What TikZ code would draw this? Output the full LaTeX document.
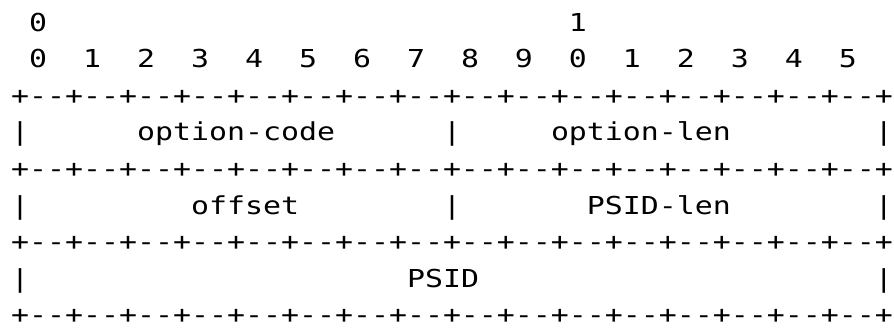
\documentclass[tikz,border=0pt]{standalone}
\usepackage{fontspec}
\setmonofont{DejaVu Sans Mono}
\usepackage{graphicx}

% n blank character cells of the mono font
\newcommand{\gap}[1]{\hspace*{#1\fontcharwd\font`\0}}
% widen a row to the cell width of the picture
\newcommand{\wide}[1]{\scalebox{1.21}[1]{#1}}
\tikzset{
  asciirow/.style={anchor=base west, inner sep=0pt, font=\ttfamily\fontsize{24.7}{30}\selectfont},
}

\begin{document}
\begin{tikzpicture}[x=1pt,y=1pt]
\useasboundingbox (0,0) rectangle (894,-330);
\node[asciirow] (tens)  at (11,-31)    {\wide{\gap{1}0\gap{29}1}};
\node[asciirow] (units) at (11,-67.6)  {\wide{~0~~1~~2~~3~~4~~5~~6~~7~~8~~9~~0~~1~~2~~3~~4~~5}};
\node[asciirow] (sepa)  at (11,-104.2) {\wide{+--+--+--+--+--+--+--+--+--+--+--+--+--+--+--+--+}};
\node[asciirow] (codes) at (11,-140.8) {\wide{|\gap{6}option-code\gap{6}|\gap{5}option-len\gap{8}|}};
\node[asciirow] (sepb)  at (11,-177.4) {\wide{+--+--+--+--+--+--+--+--+--+--+--+--+--+--+--+--+}};
\node[asciirow] (lens)  at (11,-214)   {\wide{|\gap{9}offset\gap{8}|\gap{7}PSID-len\gap{8}|}};
\node[asciirow] (sepc)  at (11,-250.6) {\wide{+--+--+--+--+--+--+--+--+--+--+--+--+--+--+--+--+}};
\node[asciirow] (psid)  at (11,-287.2) {\wide{|\gap{21}PSID\gap{22}|}};
\node[asciirow] (sepd)  at (11,-323.8) {\wide{+--+--+--+--+--+--+--+--+--+--+--+--+--+--+--+--+}};
\end{tikzpicture}
\end{document}
